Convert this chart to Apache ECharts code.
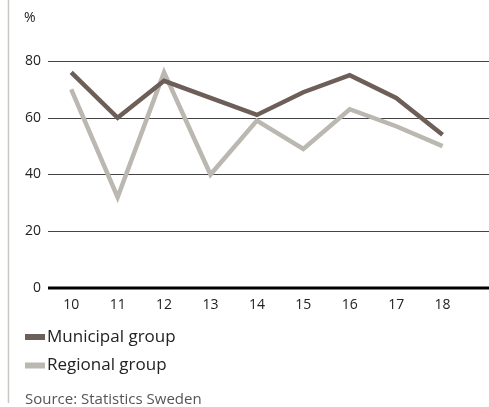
<!DOCTYPE html>
<html>
<head>
<meta charset="utf-8">
<script src="https://cdn.jsdelivr.net/npm/echarts@6/dist/echarts.min.js"></script>
<style>
  html, body { margin: 0; padding: 0; background: #fff; }
  #chart { width: 489px; height: 407px; }
</style>
</head>
<body>
<div id="chart"></div>
<script>
// Years shown on the horizontal axis (two-digit)
const years = ['10', '11', '12', '13', '14', '15', '16', '17', '18'];
// Share in percent per group
const municipal = [76, 60, 73, 67, 61, 69, 75, 67, 54];
const regional = [70, 32, 76, 40, 59, 49, 63, 57, 50];
const yTicks = [0, 20, 40, 60, 80];
const seriesNames = ['Municipal group', 'Regional group'];
const seriesColors = ['#6d5f58', '#bbb7b1'];

const FONT = '"Open Sans", sans-serif';
const yearPos = years.map(y => Number(y));
const pairs = vals => vals.map((v, i) => [yearPos[i], v]);

// Legend drawn as flat swatches with labels
const legendRows = [337, 365.5];
const legendGraphics = [];
seriesNames.forEach((name, i) => {
  legendGraphics.push({
    type: 'rect', silent: true,
    shape: { x: 25, y: legendRows[i] - 3, width: 20, height: 6 },
    style: { fill: seriesColors[i] }
  });
  legendGraphics.push({
    type: 'text', silent: true, x: 47, y: legendRows[i],
    style: { text: name, fontSize: 17, fill: '#222', fontFamily: FONT, verticalAlign: 'middle' }
  });
});

const chart = echarts.init(document.getElementById('chart'), null, { renderer: 'canvas' });
chart.setOption({
  animation: false,
  backgroundColor: '#ffffff',
  grid: { left: 48, right: 0, top: 61, bottom: 119, containLabel: false },
  xAxis: {
    type: 'value',
    min: 9.5,
    max: 19,
    axisLine: { show: false },
    axisTick: { show: false },
    splitLine: { show: false },
    axisLabel: {
      customValues: yearPos,
      formatter: v => years[yearPos.indexOf(v)] || '',
      margin: 10,
      fontSize: 14,
      color: '#222',
      fontFamily: FONT
    }
  },
  yAxis: {
    type: 'value',
    min: 0,
    max: 80,
    interval: 20,
    axisLine: { show: false },
    axisTick: { show: false },
    axisLabel: {
      customValues: yTicks,
      margin: 7,
      fontSize: 14,
      color: '#222',
      fontFamily: FONT
    },
    splitLine: {
      show: true,
      lineStyle: { color: '#444', width: 1 }
    }
  },
  graphic: [
    { type: 'line', silent: true, shape: { x1: 8.5, y1: 0, x2: 8.5, y2: 403 }, style: { stroke: '#cbc7c3', lineWidth: 1.5 } },
    { type: 'line', silent: true, z: 10, shape: { x1: 48, y1: 288, x2: 489, y2: 288 }, style: { stroke: '#000', lineWidth: 3 } },
    { type: 'text', silent: true, x: 24, y: 18, style: { text: '%', fontSize: 14, fill: '#222', fontFamily: FONT, verticalAlign: 'middle' } },
    { type: 'text', silent: true, x: 25, y: 400, style: { text: 'Source: Statistics Sweden', fontSize: 15, fill: '#555', fontFamily: FONT, verticalAlign: 'middle' } }
  ].concat(legendGraphics),
  series: [
    {
      name: seriesNames[0],
      type: 'line',
      data: pairs(municipal),
      symbol: 'none',
      z: 4,
      color: seriesColors[0],
      lineStyle: { width: 4.5, color: seriesColors[0], join: 'miter' }
    },
    {
      name: seriesNames[1],
      type: 'line',
      data: pairs(regional),
      symbol: 'none',
      z: 3,
      color: seriesColors[1],
      lineStyle: { width: 4.5, color: seriesColors[1], join: 'miter' }
    }
  ]
});
</script>
</body>
</html>
